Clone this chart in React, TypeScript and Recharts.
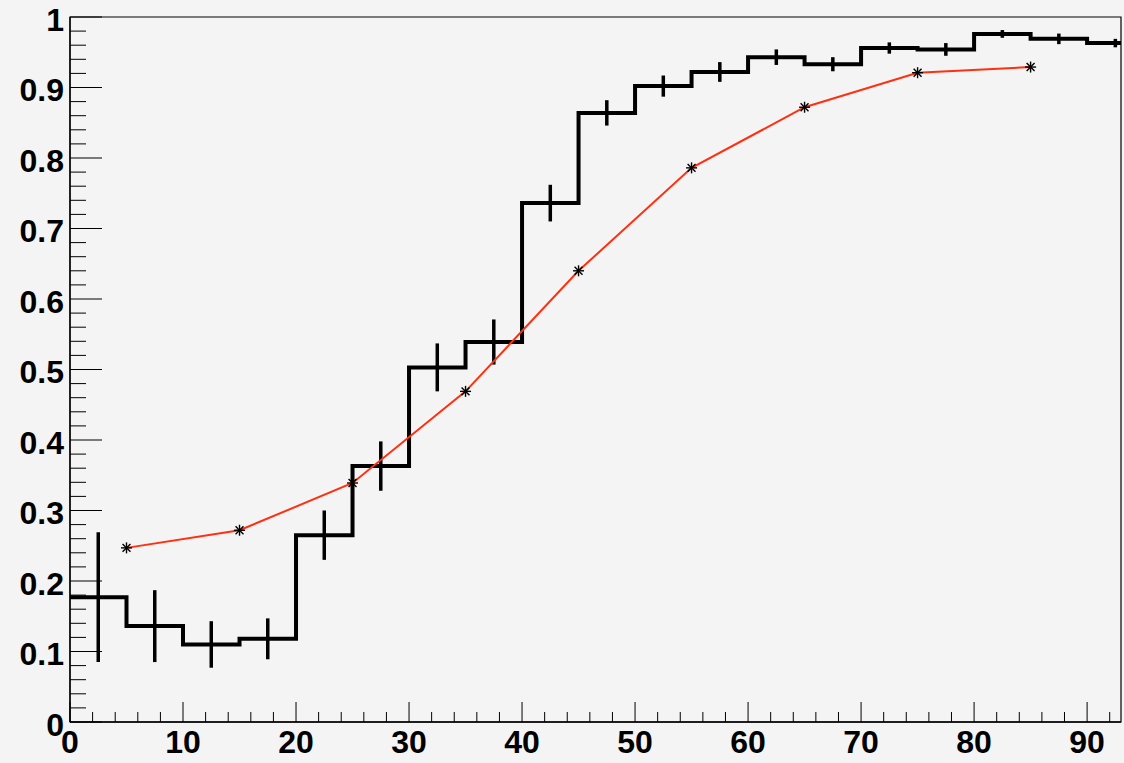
import React from "react";
import {
  ComposedChart,
  Line,
  Scatter,
  ErrorBar,
  XAxis,
  YAxis,
  ReferenceArea,
} from "recharts";

// Histogram bin lower edges (last entry closes the final bin)
const binEdges = [0, 5, 10, 15, 20, 25, 30, 35, 40, 45, 50, 55, 60, 65, 70, 75, 80, 85, 90, 95];
const binValues = [
  0.177, 0.136, 0.11, 0.118, 0.265, 0.363, 0.503, 0.539, 0.736, 0.864,
  0.902, 0.922, 0.943, 0.933, 0.956, 0.954, 0.976, 0.969, 0.963, 0.963,
];

// Bin centres and their errors
const binCenters = [2.5, 7.5, 12.5, 17.5, 22.5, 27.5, 32.5, 37.5, 42.5, 47.5, 52.5, 57.5, 62.5, 67.5, 72.5, 77.5, 82.5, 87.5, 92.5];
const binErrors = [
  0.092, 0.051, 0.033, 0.029, 0.035, 0.035, 0.034, 0.032, 0.026, 0.018,
  0.015, 0.014, 0.011, 0.01, 0.008, 0.009, 0.0055, 0.0075, 0.006,
];

// Red curve
const curveX = [5, 15, 25, 35, 45, 55, 65, 75, 85];
const curveY = [0.247, 0.272, 0.339, 0.469, 0.64, 0.786, 0.872, 0.921, 0.929];

// Axis ticks
const xMajorTicks = [0, 10, 20, 30, 40, 50, 60, 70, 80, 90];
const xTickLabels = ["0", "10", "20", "30", "40", "50", "60", "70", "80", "90"];
const xAllTicks = Array.from({ length: 47 }, (_, i) => i * 2);
const yMajorTicks = [0, 0.1, 0.2, 0.3, 0.4, 0.5, 0.6, 0.7, 0.8, 0.9, 1];
const yTickLabels = ["0", "0.1", "0.2", "0.3", "0.4", "0.5", "0.6", "0.7", "0.8", "0.9", "1"];
const yAllTicks = Array.from({ length: 51 }, (_, i) => i / 50);

const histData = binEdges.map((x, i) => ({ x, y: binValues[i] }));
const errData = binCenters.map((x, i) => ({
  x,
  y: binValues[i],
  err: binErrors[i],
}));
const curveData = curveX.map((x, i) => ({ x, y: curveY[i] }));

const FONT = "'Liberation Sans', Arial, Helvetica, sans-serif";
const BG = "#f4f4f4";

const XTick = (props: any) => {
  const { x, y, payload } = props;
  const v = Math.round(payload.value);
  const idx = xMajorTicks.indexOf(v);
  const major = idx >= 0;
  return (
    <g>
      <line x1={x} x2={x} y1={y} y2={y - (major ? 20 : 10)} stroke="#000" strokeWidth={1} />
      {major && (
        <text
          x={x}
          y={y + 31}
          textAnchor="middle"
          fontFamily={FONT}
          fontWeight="bold"
          fontSize={32}
          fill="#000"
        >
          {xTickLabels[idx]}
        </text>
      )}
    </g>
  );
};

const YTick = (props: any) => {
  const { x, y, payload } = props;
  const k = Math.round(payload.value * 50);
  const major = k % 5 === 0;
  const idx = major ? k / 5 : -1;
  return (
    <g>
      <line x1={x} x2={x + (major ? 32 : 16)} y1={y} y2={y} stroke="#000" strokeWidth={1} />
      {major && (
        <text
          x={x - 6}
          y={y + 13.5}
          textAnchor="end"
          fontFamily={FONT}
          fontWeight="bold"
          fontSize={32}
          fill="#000"
        >
          {yTickLabels[idx]}
        </text>
      )}
    </g>
  );
};

const Asterisk = (props: any) => {
  const { cx, cy, index } = props;
  if (cx == null || cy == null) return <g key={`a-${index}`} />;
  const r = 5.5;
  const d = r * 0.72;
  return (
    <g key={`a-${index}`} stroke="#000" strokeWidth={1.4}>
      <line x1={cx - r} x2={cx + r} y1={cy} y2={cy} />
      <line x1={cx} x2={cx} y1={cy - r} y2={cy + r} />
      <line x1={cx - d} x2={cx + d} y1={cy - d} y2={cy + d} />
      <line x1={cx - d} x2={cx + d} y1={cy + d} y2={cy - d} />
    </g>
  );
};

export default function App() {
  return (
    <div
      style={{
        position: "absolute",
        left: 0,
        top: 0,
        width: 1124,
        height: 763,
        background: BG,
      }}
    >
      <ComposedChart
        width={1124}
        height={763}
        margin={{ top: 17, right: 3, left: 0, bottom: 0 }}
      >
        <XAxis
          dataKey="x"
          type="number"
          domain={[0, 93]}
          allowDataOverflow
          ticks={xAllTicks}
          interval={0}
          tickSize={0}
          tickMargin={0}
          tickLine={false}
          axisLine={{ stroke: "#000", strokeWidth: 1.3 }}
          tick={<XTick />}
          height={41}
        />
        <YAxis
          type="number"
          domain={[0, 1]}
          allowDataOverflow
          ticks={yAllTicks}
          interval={0}
          tickSize={0}
          tickMargin={0}
          tickLine={false}
          axisLine={{ stroke: "#000", strokeWidth: 1.3 }}
          tick={<YTick />}
          width={70}
        />
        <ReferenceArea
          x1={0}
          x2={93}
          y1={0}
          y2={1}
          fill="none"
          stroke="#000"
          strokeWidth={1.2}
          ifOverflow="visible"
        />
        <Line
          data={histData}
          dataKey="y"
          type="stepAfter"
          stroke="#000"
          strokeWidth={4}
          dot={false}
          activeDot={false}
          isAnimationActive={false}
        />
        <Scatter
          data={errData}
          dataKey="y"
          isAnimationActive={false}
          shape={() => <g />}
        >
          <ErrorBar
            dataKey="err"
            direction="y"
            width={0}
            stroke="#000"
            strokeWidth={3.5}
            isAnimationActive={false}
          />
        </Scatter>
        <Line
          data={curveData}
          dataKey="y"
          type="linear"
          stroke="#ff2f0f"
          strokeWidth={2}
          dot={(p: any) => <Asterisk {...p} key={`d-${p.index}`} />}
          activeDot={false}
          isAnimationActive={false}
        />
      </ComposedChart>
    </div>
  );
}
